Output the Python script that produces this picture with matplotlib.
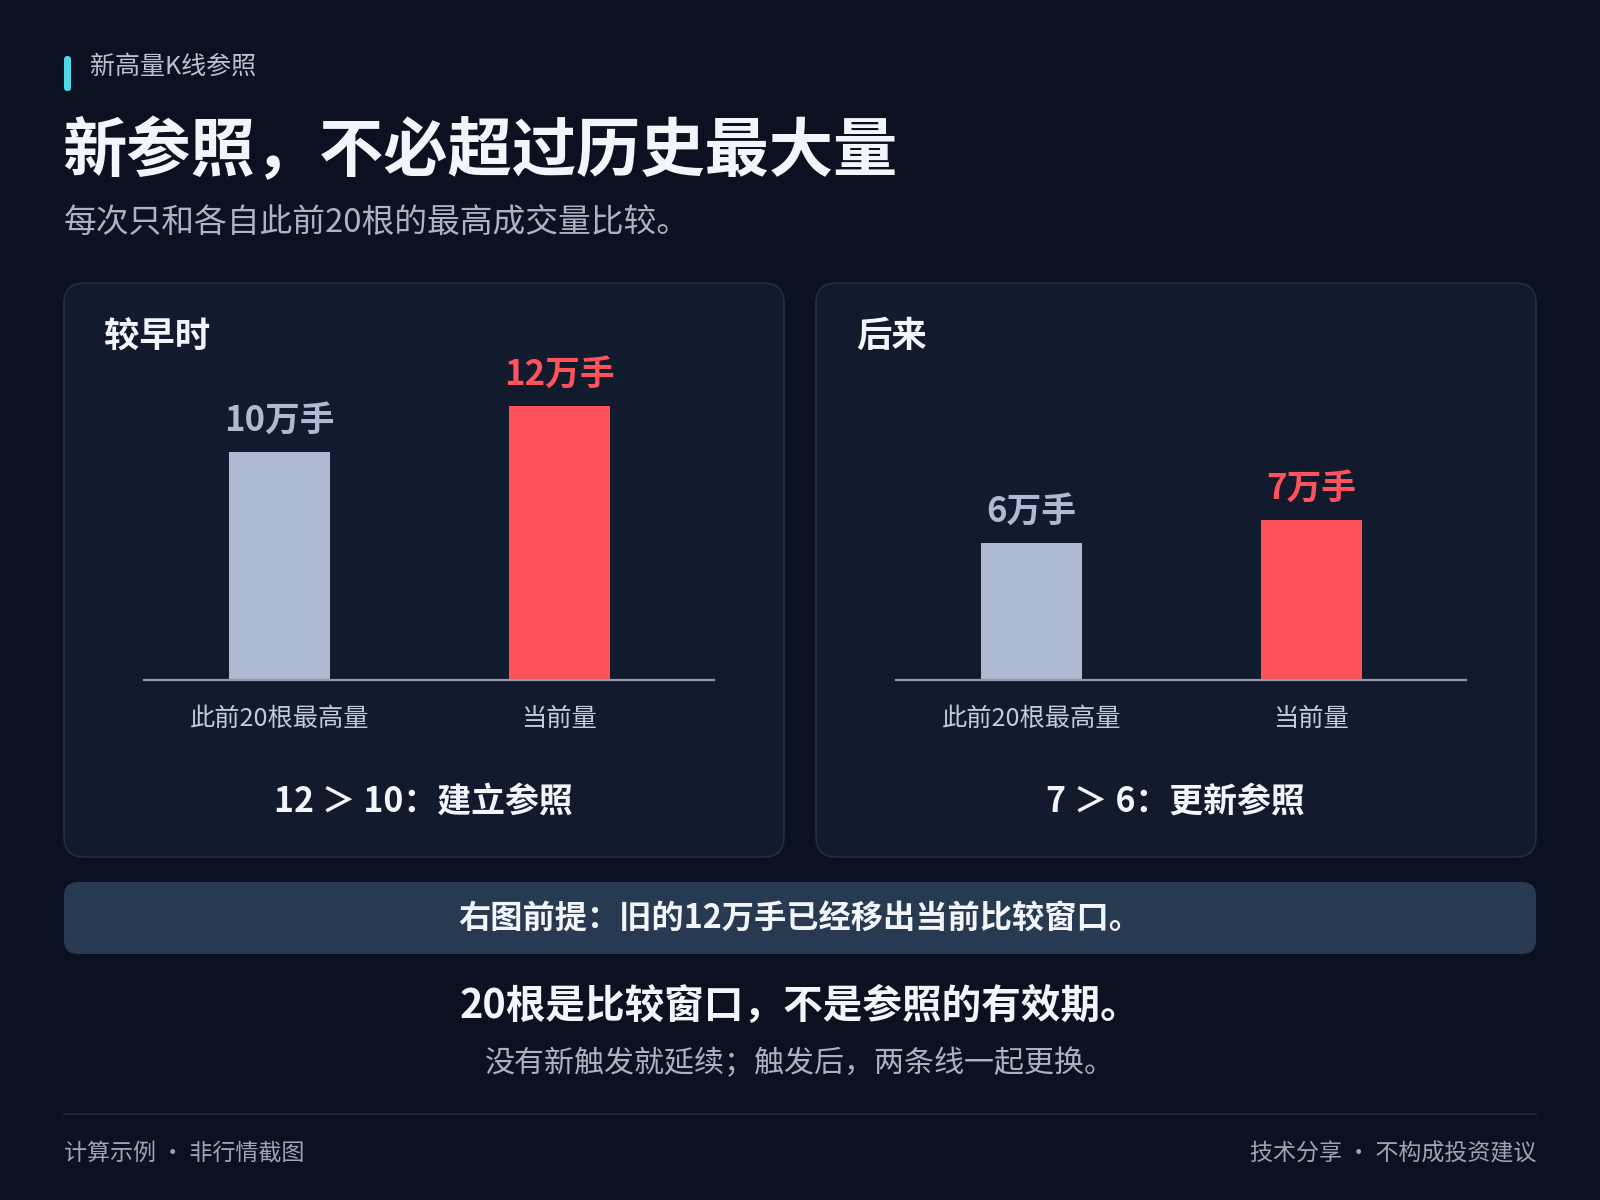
import matplotlib
matplotlib.use("Agg")
from matplotlib import pyplot as plt
from matplotlib.patches import FancyBboxPatch

plt.rcParams['font.family'] = ['Noto Sans CJK SC', 'DejaVu Sans']

# data
categories = ["此前20根最高量", "当前量"]
panel_titles = ["较早时", "后来"]
early_values = [10, 12]
later_values = [6, 7]
value_labels = [["10万手", "12万手"], ["6万手", "7万手"]]
verdicts = ["12 ＞ 10：建立参照", "7 ＞ 6：更新参照"]

BG = '#0b1120'
PANEL = '#121b2d'
PANEL_EDGE = '#222d40'
BANNER = '#283a52'
GREY_BAR = '#aebad2'
RED = '#ff525b'
WHITE = '#f2f5fa'

W, H = 1600, 1200
fig = plt.figure(figsize=(16, 12), dpi=100, facecolor=BG)

# background layer in pixel coords
bg = fig.add_axes([0, 0, 1, 1])
bg.set_xlim(0, W)
bg.set_ylim(H, 0)
bg.axis('off')
bg.set_facecolor(BG)

# header
bg.add_patch(FancyBboxPatch((64, 56), 7, 35, boxstyle="round,pad=0,rounding_size=3.5",
                            fc='#4fd8e6', ec='none'))
bg.text(90, 67, "新高量K线参照", color='#b8c2d2', fontsize=18, va='center', ha='left')
bg.text(62, 152, "新参照，不必超过历史最大量", color=WHITE, fontsize=46.3, weight='bold',
        va='center', ha='left')
bg.text(64, 223, "每次只和各自此前20根的最高成交量比较。", color='#aab4c4', fontsize=23.6,
        va='center', ha='left')

# panels
panel_x = [64, 816]
for px in panel_x:
    bg.add_patch(FancyBboxPatch((px, 283), 720, 574, boxstyle="round,pad=0,rounding_size=20",
                                fc=PANEL, ec=PANEL_EDGE, lw=1.2))

# banner
bg.add_patch(FancyBboxPatch((64, 882), 1472, 72, boxstyle="round,pad=0,rounding_size=14",
                            fc=BANNER, ec='none'))
bg.text(800, 919, "右图前提：旧的12万手已经移出当前比较窗口。", color=WHITE, fontsize=23.2,
        weight='bold', va='center', ha='center')

bg.text(800, 1006, "20根是比较窗口，不是参照的有效期。", color=WHITE, fontsize=28.5,
        weight='bold', va='center', ha='center')
bg.text(800, 1064, "没有新触发就延续；触发后，两条线一起更换。", color='#a9b3c3', fontsize=21.6,
        va='center', ha='center')

bg.plot([64, 1536], [1114, 1114], color='#232e40', lw=1.2)
bg.text(64, 1154, "计算示例 · 非行情截图", color='#9aa5b6', fontsize=16.6, va='center', ha='left')
bg.text(1536, 1154, "技术分享 · 不构成投资建议", color='#9aa5b6', fontsize=16.6, va='center', ha='right')

# bar charts
base_y = 680
top_y = 360
px_per_unit = 22.8
ymax = (base_y - top_y) / px_per_unit
for i, (vals, px) in enumerate(zip([early_values, later_values], panel_x)):
    left = px + 80
    width = 570
    ax = fig.add_axes([left / W, 1 - base_y / H, width / W, (base_y - top_y) / H])
    ax.set_facecolor('none')
    ax.set_ylim(0, ymax)
    ax.set_xlim(-0.485, 1.554)
    ax.bar([0, 1], vals, width=0.361, color=[GREY_BAR, RED], zorder=2)
    for s in ['top', 'right', 'left']:
        ax.spines[s].set_visible(False)
    ax.spines['bottom'].set_color('#8e9ab0')
    ax.spines['bottom'].set_linewidth(1.6)
    ax.set_yticks([])
    ax.set_xticks([0, 1])
    ax.set_xticklabels(categories, fontsize=18.2, color='#c3cbd8')
    ax.tick_params(axis='x', length=0, pad=19)
    for j, v in enumerate(vals):
        ax.annotate(value_labels[i][j], (j, v), xytext=(0, 32), textcoords='offset pixels',
                    ha='center', va='center', fontsize=25, weight='bold',
                    color=[GREY_BAR, RED][j])
    bg.text(px + 40, 336, panel_titles[i], color=WHITE, fontsize=25.5, weight='bold',
            va='center', ha='left')
    bg.text(px + 359, 802, verdicts[i], color=WHITE, fontsize=24.4, weight='bold',
            va='center', ha='center')

fig.savefig("out.png", dpi=100, facecolor=BG)
